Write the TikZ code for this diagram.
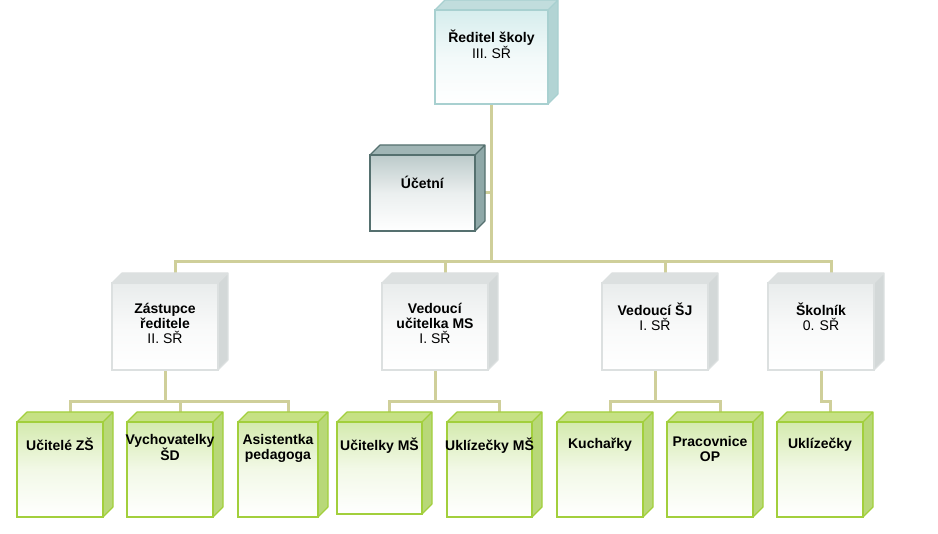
\documentclass[tikz,border=0pt]{standalone}
\usepackage{fontspec}
\setmainfont{Liberation Sans}
\usetikzlibrary{positioning,calc,backgrounds}
\definecolor{linkcol}  {HTML}{CFCF9A}
\definecolor{tealln}   {HTML}{A8D0D0}
\definecolor{tealfc}   {HTML}{D6EDED}
\definecolor{tealsd}   {HTML}{B2D4D4}
\definecolor{slateln}  {HTML}{55706F}
\definecolor{slatefc}  {HTML}{BCCACA}
\definecolor{slatesd}  {HTML}{8FA8A8}
\definecolor{greyln}   {HTML}{DCE0E0}
\definecolor{greyfc}   {HTML}{E9ECEC}
\definecolor{greysd}   {HTML}{D3D8D8}
\definecolor{greenln}  {HTML}{A2CF3C}
\definecolor{greenfc}  {HTML}{D4EAAE}
\definecolor{greensd}  {HTML}{B8D878}
\definecolor{greentp}  {HTML}{C6E184}

\tikzset{
  link/.style={linkcol,line width=3pt},
  box/.style={rectangle,inner sep=0pt,outer sep=0pt,line width=1.2pt},
  lbl/.style={anchor=north,align=center,inner sep=0pt,
    font=\fontsize{14}{15}\selectfont},
}
% \cube{name}{x1}{y1}{x2}{y2}{line}{front}{side}{top}
\newcommand{\cube}[9]{%
  \fill[#9] (#2,#3) -- ++(10,-10) -- ($(#4,#3)+(10,-10)$) -- (#4,#3) -- cycle;
  \fill[#8] (#4,#3) -- ++(10,-10) -- ($(#4,#5)+(10,-10)$) -- (#4,#5) -- cycle;
  \draw[#6,line width=1.2pt,line join=round]
    (#2,#3) -- ++(10,-10) -- ($(#4,#3)+(10,-10)$) -- ($(#4,#5)+(10,-10)$) -- (#4,#5)
    (#4,#3) -- ++(10,-10);
  \node[box,draw=#6,top color=#7,bottom color=white,middle color=#7!30,
    minimum width=#4pt-#2pt,minimum height=#5pt-#3pt,anchor=north west]
    (#1) at (#2,#3) {};
}

\begin{document}
\begin{tikzpicture}[x=1pt,y=-1pt]
  \useasboundingbox (0,0) rectangle (938,534);

  % top and staff
  \cube{reditel}{435}{10}{548}{104}{tealln}{tealfc}{tealsd}{tealsd!80}
  \node[lbl] at ([yshift=-20pt]reditel.north) {\textbf{Ředitel školy}\\III. SŘ};
  \cube{ucetni}{370}{155}{475}{231}{slateln}{slatefc}{slatesd}{slatesd!85}
  \node[lbl] at ([yshift=-21pt]ucetni.north) {\textbf{Účetní}};

  % second level
  \cube{zast}{112}{283}{218}{370}{greyln}{greyfc}{greysd}{greysd!80}
  \node[lbl] at ([yshift=-20pt]zast.north) {\textbf{Zástupce}\\\textbf{ředitele}\\II. SŘ};
  \cube{vedms}{382}{283}{488}{370}{greyln}{greyfc}{greysd}{greysd!80}
  \node[lbl] at ([yshift=-20pt]vedms.north) {\textbf{Vedoucí}\\\textbf{učitelka MS}\\I. SŘ};
  \cube{vedsj}{602}{283}{708}{370}{greyln}{greyfc}{greysd}{greysd!80}
  \node[lbl] at ([yshift=-20pt]vedsj.north) {\textbf{Vedoucí ŠJ}\\I. SŘ};
  \cube{skol}{768}{283}{874}{370}{greyln}{greyfc}{greysd}{greysd!80}
  \node[lbl] at ([yshift=-20pt]skol.north) {\textbf{Školník}\\0. SŘ};

  % third level
  \cube{uczs}{17}{422}{103}{517}{greenln}{greenfc}{greensd}{greentp}
  \node[lbl] at ([yshift=-16pt]uczs.north) {\textbf{Učitelé ZŠ}};
  \cube{vych}{127}{422}{213}{517}{greenln}{greenfc}{greensd}{greentp}
  \node[lbl] at ([yshift=-12pt]vych.north) {\textbf{Vychovatelky}\\\textbf{ŠD}};
  \cube{asis}{238}{422}{318}{517}{greenln}{greenfc}{greensd}{greentp}
  \node[lbl] at ([yshift=-12pt]asis.north) {\textbf{Asistentka}\\\textbf{pedagoga}};
  \cube{ucms}{337}{422}{422}{514}{greenln}{greenfc}{greensd}{greentp}
  \node[lbl] at ([yshift=-16pt]ucms.north) {\textbf{Učitelky MŠ}};
  \cube{ukms}{447}{422}{532}{517}{greenln}{greenfc}{greensd}{greentp}
  \node[lbl] at ([yshift=-16pt]ukms.north) {\textbf{Uklízečky MŠ}};
  \cube{kuch}{557}{422}{643}{517}{greenln}{greenfc}{greensd}{greentp}
  \node[lbl] at ([yshift=-16pt]kuch.north) {\textbf{Kuchařky}};
  \cube{prac}{667}{422}{753}{517}{greenln}{greenfc}{greensd}{greentp}
  \node[lbl] at ([yshift=-14pt]prac.north) {\textbf{Pracovnice}\\\textbf{OP}};
  \cube{ukl}{777}{422}{863}{517}{greenln}{greenfc}{greensd}{greentp}
  \node[lbl] at ([yshift=-16pt]ukl.north) {\textbf{Uklízečky}};

  % connectors
  \begin{scope}[on background layer]
    \coordinate (bar1) at ($(reditel.south)+(0,158)$);
    \draw[link] (reditel.south) -- (bar1);
    \draw[link] (ucetni.east) -- (ucetni.east -| reditel.south);
    \foreach \n in {zast,vedms,vedsj,skol} {
      \draw[link] (bar1) -| ([xshift=10pt,yshift=-5pt]\n.north);
    }
    \foreach \p/\c in {zast/uczs,zast/vych,zast/asis,vedms/ucms,vedms/ukms,
                       vedsj/kuch,vedsj/prac,skol/ukl} {
      \draw[link] (\p.south) -- ++(0,32) -| ([xshift=10pt,yshift=-5pt]\c.north);
    }
  \end{scope}
\end{tikzpicture}
\end{document}
